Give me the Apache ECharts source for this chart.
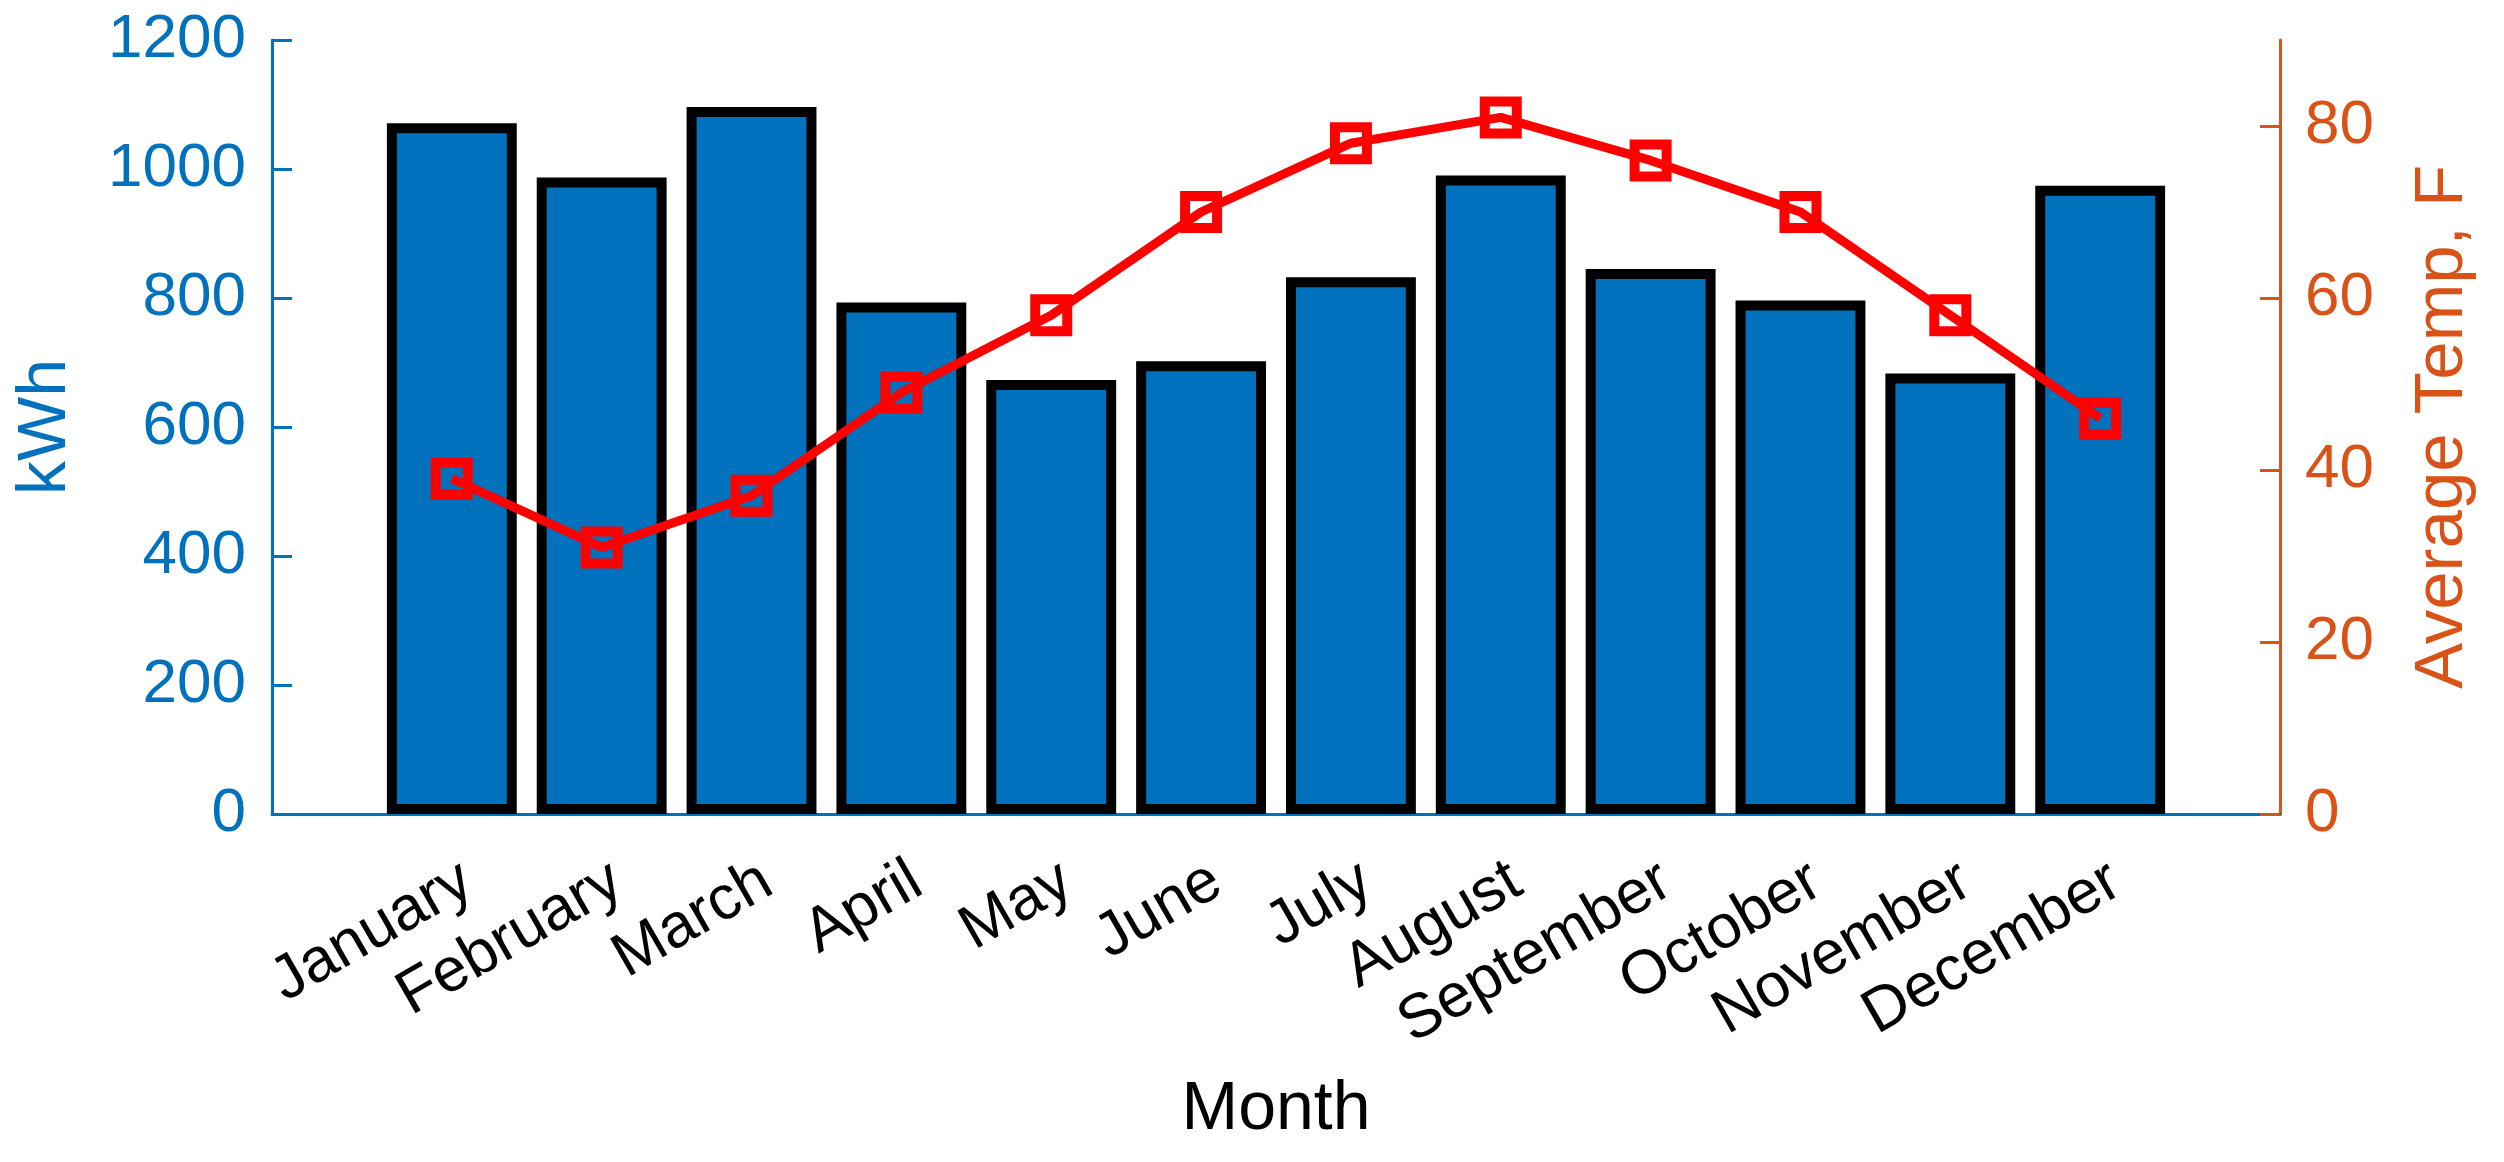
<!DOCTYPE html>
<html>
<head>
<meta charset="utf-8">
<script src="https://cdn.jsdelivr.net/npm/echarts@6/dist/echarts.min.js"></script>
<style>
html,body{margin:0;padding:0;background:#ffffff;}
#chart{width:2504px;height:1162px;}
</style>
</head>
<body>
<div id="chart"></div>
<script>
// ---- data ----
const months = ['January','February','March','April','May','June','July','August','September','October','November','December'];
const energyKWh = [1071, 987, 1096, 793, 673, 702, 832, 990, 845, 796, 683, 974];
const avgTempF = [39, 31, 37, 49, 58, 70, 78, 81, 76, 70, 58, 46];
const kwhTicks = [0, 200, 400, 600, 800, 1000, 1200];
const tempTicks = [0, 20, 40, 60, 80];

// ---- layout / style ----
const FONT = 'Liberation Sans, Arial, Helvetica, sans-serif';
const BLUE = '#0072BD';
const ORANGE = '#D95319';
const W = 2504, H = 1162;
const gridLeft = 272, gridRight = 224, gridTop = 40, gridBottom = 348;
const xMin = -0.2, xMax = 13.2;
const unitPx = (W - gridLeft - gridRight) / (xMax - xMin);
const barBorder = 10;
const barWidth = 0.8 * unitPx + barBorder;
const labelShift = 16 / unitPx; // rotated labels sit slightly right of bar centres

const positions = months.map((m, i) => i + 1);
const labelPositions = positions.map(p => p + labelShift);
const barData = positions.map((p, i) => [p, energyKWh[i]]);
const lineData = positions.map((p, i) => [p, avgTempF[i]]);

const chart = echarts.init(document.getElementById('chart'), null, {renderer: 'canvas'});
chart.setOption({
  animation: false,
  backgroundColor: '#ffffff',
  textStyle: {fontFamily: FONT},
  grid: {left: gridLeft, right: gridRight, top: gridTop, bottom: gridBottom, containLabel: false},
  xAxis: {
    type: 'value',
    min: xMin, max: xMax,
    name: 'Month',
    nameLocation: 'middle',
    nameGap: 262,
    nameTextStyle: {fontSize: 68, color: '#000000', fontFamily: FONT},
    axisLine: {show: true, onZero: false, lineStyle: {color: BLUE, width: 3}},
    axisTick: {show: false},
    splitLine: {show: false},
    axisLabel: {
      customValues: labelPositions,
      formatter: v => months[Math.round(v - labelShift) - 1] || '',
      rotate: 30,
      margin: 63,
      fontSize: 62,
      color: '#000000',
      fontFamily: FONT
    }
  },
  yAxis: [
    {
      type: 'value',
      position: 'left',
      min: 0, max: 1200, interval: 200,
      name: 'kWh',
      nameLocation: 'middle',
      nameRotate: 90,
      nameGap: 192,
      nameTextStyle: {fontSize: 68, color: BLUE, fontFamily: FONT},
      axisLine: {show: true, onZero: false, lineStyle: {color: BLUE, width: 3}},
      axisTick: {show: true, inside: true, length: 20, lineStyle: {color: BLUE, width: 3}, customValues: kwhTicks},
      axisLabel: {customValues: kwhTicks, formatter: v => String(v), margin: 26, fontSize: 62, color: BLUE, fontFamily: FONT},
      splitLine: {show: false}
    },
    {
      type: 'value',
      position: 'right',
      min: 0, max: 90, interval: 20,
      name: 'Average Temp, F',
      nameLocation: 'middle',
      nameRotate: 90,
      nameGap: 128,
      nameTextStyle: {fontSize: 69, color: ORANGE, fontFamily: FONT},
      axisLine: {show: true, onZero: false, lineStyle: {color: ORANGE, width: 3}},
      axisTick: {show: true, inside: true, length: 20, lineStyle: {color: ORANGE, width: 3}, customValues: tempTicks},
      axisLabel: {customValues: tempTicks, formatter: v => String(v), margin: 25, fontSize: 62, color: ORANGE, fontFamily: FONT},
      splitLine: {show: false}
    }
  ],
  series: [
    {
      type: 'bar',
      xAxisIndex: 0, yAxisIndex: 0,
      data: barData,
      barWidth: barWidth,
      itemStyle: {color: BLUE, borderColor: '#000000', borderWidth: barBorder},
      z: 2
    },
    {
      type: 'line',
      xAxisIndex: 0, yAxisIndex: 1,
      data: lineData,
      symbol: 'rect',
      symbolSize: 32,
      showSymbol: true,
      showAllSymbol: true,
      lineStyle: {color: '#FF0000', width: 9},
      itemStyle: {color: 'rgba(0,0,0,0)', borderColor: '#FF0000', borderWidth: 10},
      z: 3
    }
  ]
});
</script>
</body>
</html>
